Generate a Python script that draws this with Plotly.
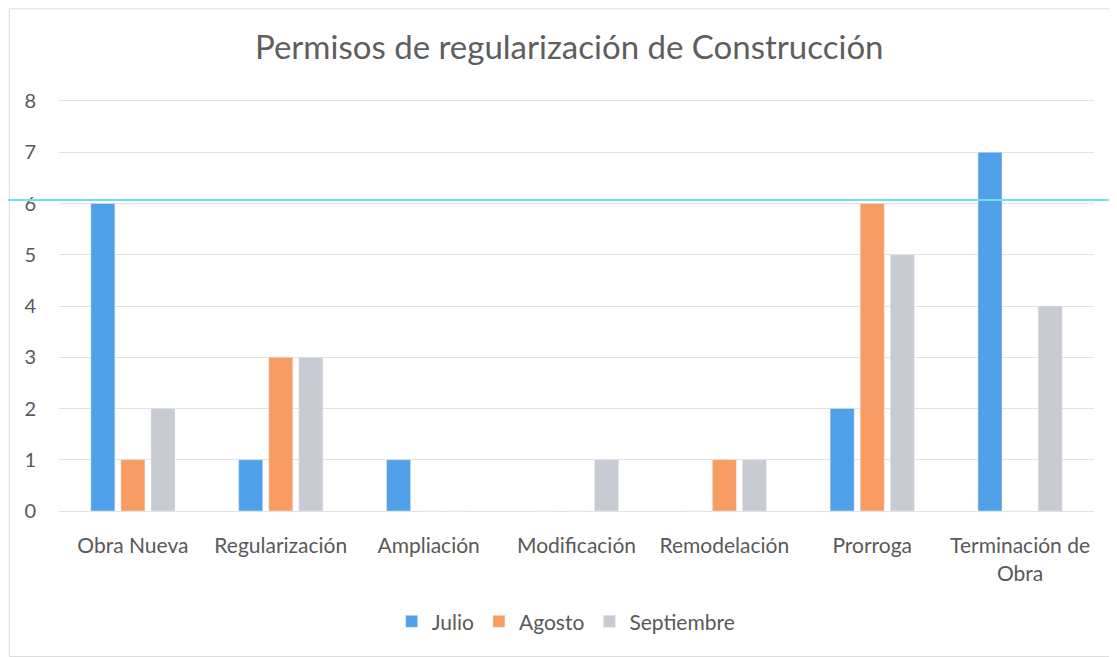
import plotly.graph_objects as go

categories = ["Obra Nueva", "Regularización", "Ampliación", "Modificación",
              "Remodelación", "Prorroga", "Terminación de<br>Obra"]
julio = [6, 1, 1, 0, 0, 2, 7]
agosto = [1, 3, 0, 0, 1, 6, 0]
septiembre = [2, 3, 0, 1, 1, 5, 4]
y_ticks = [0, 1, 2, 3, 4, 5, 6, 7, 8]

FONT = "Lato"
TEXT = "#595959"


def main():
    fig = go.Figure()

    series = [
        ("Julio", julio, "#4fa0e8"),
        ("Agosto", agosto, "#f89c63"),
        ("Septiembre", septiembre, "#c9cbd3"),
    ]
    for name, values, color in series:
        fig.add_trace(go.Bar(x=categories, y=values, name=name, marker_color=color))

    # scan artefacts: faint frame and the cyan line across the page
    fig.add_shape(type="rect", xref="paper", yref="paper",
                  x0=-0.048, x1=1.0225, y0=-0.355, y1=1.225,
                  line=dict(color="#dcdcdc", width=1))
    fig.add_shape(type="line", xref="paper", yref="paper",
                  x0=-0.06, x1=1.04, y0=0.7585, y1=0.7585,
                  line=dict(color="#6fe3ea", width=2))

    fig.update_layout(
        width=1117,
        height=657,
        margin=dict(l=51, r=31, t=93, b=154),
        paper_bgcolor="white",
        plot_bgcolor="white",
        barmode="group",
        bargap=0.39,
        bargroupgap=0.2,
        font=dict(family=FONT, color=TEXT, size=21),
        title=dict(text="Permisos de regularización de Construcción",
                   x=0.493, xref="paper", y=0.94, yanchor="middle",
                   font=dict(family=FONT, size=33, color="#5e5e5e")),
        legend=dict(orientation="h", x=0.49, xanchor="center",
                    y=-0.27, yanchor="middle", font=dict(size=21),
                    itemwidth=30, tracegroupgap=0),
        xaxis=dict(showgrid=False, showline=True, mirror=True,
                   linecolor="#e3e3e3", linewidth=1, ticks="outside",
                   ticklen=16, tickcolor="rgba(0,0,0,0)",
                   tickfont=dict(size=21, color=TEXT)),
        yaxis=dict(range=[0, 8], tickvals=y_ticks, showgrid=True,
                   gridcolor="#e3e3e3", gridwidth=1, zeroline=True,
                   zerolinecolor="#d9d9d9", zerolinewidth=1,
                   ticks="outside", ticklen=18, tickcolor="rgba(0,0,0,0)",
                   tickfont=dict(size=20, color=TEXT)),
    )

    fig.write_html("out.html")


if __name__ == "__main__":
    main()
